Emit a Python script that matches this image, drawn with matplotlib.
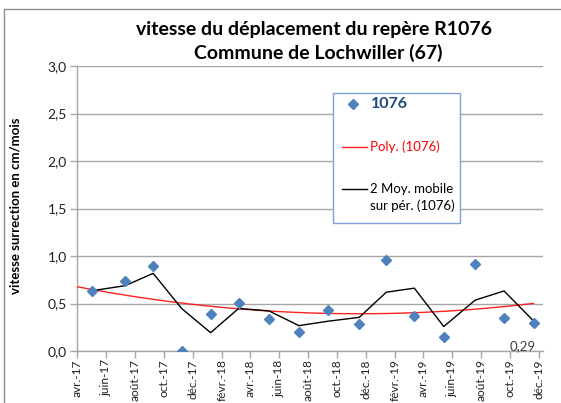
import matplotlib
matplotlib.use("Agg")
import matplotlib.pyplot as plt
import matplotlib.dates as mdates
import numpy as np
import pandas as pd
from matplotlib.lines import Line2D
from matplotlib.patches import Rectangle

# ---- data ----
dates = ["2017-05-04", "2017-07-12", "2017-09-09", "2017-11-08", "2018-01-08",
         "2018-03-08", "2018-05-11", "2018-07-13", "2018-09-13", "2018-11-17",
         "2019-01-13", "2019-03-13", "2019-05-14", "2019-07-19", "2019-09-18",
         "2019-11-19"]
values = [0.635, 0.74, 0.895, 0.0, 0.386, 0.51, 0.334, 0.20, 0.428, 0.28,
          0.958, 0.365, 0.15, 0.92, 0.344, 0.29]
tick_dates = pd.date_range("2017-04-01", "2019-12-01", freq="2MS")
month_fr = {1: "janv.", 2: "févr.", 3: "mars", 4: "avr.", 5: "mai", 6: "juin",
            7: "juil.", 8: "août", 9: "sept.", 10: "oct.", 11: "nov.", 12: "déc."}
tick_labels = [f"{month_fr[d.month]}-{d.year % 100:02d}" for d in tick_dates]
yticks = [0.0, 0.5, 1.0, 1.5, 2.0, 2.5, 3.0]
ytick_labels = [f"{v:.1f}".replace(".", ",") for v in yticks]
last_label = "0,29"

plt.rcParams['font.family'] = ['Lato', 'DejaVu Sans']

W, H = 561, 403
fig = plt.figure(figsize=(W / 100, H / 100), dpi=100)
ax = fig.add_axes([76.7 / W, 1 - 351 / H, (543 - 76.7) / W, (351 - 66) / H])

x = pd.to_datetime(dates)
xn = mdates.date2num(x)
y = np.array(values)

xmin = mdates.date2num(pd.Timestamp("2017-04-01"))
xmax = mdates.date2num(pd.Timestamp("2019-12-09"))

# polynomial trendline (order 2)
coef = np.polyfit(xn - xn[0], y, 2)
xp = np.linspace(xmin, xn[-1], 200)
yp = np.polyval(coef, xp - xn[0])
ax.plot(xp, yp, color="#FF2020", lw=1.0, zorder=3)

# moving average (period 2)
ma = pd.Series(y).rolling(2, min_periods=1).mean().values
ax.plot(xn, ma, color="black", lw=1.0, zorder=4)

# points
ax.plot(xn, y, linestyle="none", marker="D", markersize=5.5, color="#4F81BD",
        zorder=5)

ax.annotate(last_label, (xn[-1], y[-1]), xytext=(-8, -12), textcoords="offset points",
            ha="center", va="top", fontsize=9.5, color="#404040")

ax.set_xlim(xmin, xmax)
ax.set_ylim(0, 3.0)
ax.set_xticks(mdates.date2num(tick_dates))
ax.set_xticklabels(tick_labels, rotation=90, fontsize=8.6, color="#202020")
ax.set_yticks(yticks)
ax.set_yticklabels(ytick_labels, fontsize=10, color="#202020")
ax.grid(axis="y", color="#A6A6A6", lw=1.0)
ax.set_axisbelow(True)
for s in ["top", "right"]:
    ax.spines[s].set_visible(False)
for s in ["left", "bottom"]:
    ax.spines[s].set_color("#A6A6A6")
    ax.spines[s].set_linewidth(1.0)
ax.tick_params(axis="both", color="#A6A6A6", length=5, width=1.0, direction="out", pad=2)
ax.tick_params(axis="x", pad=1)

ax.set_ylabel("vitesse surrection en cm/mois", fontsize=9.5, fontweight="bold",
              labelpad=8)
ax.yaxis.set_label_coords((22 - 76.7) / (543 - 76.7), (351 - 206) / (351 - 66))

fig.text(314 / W, 1 - 30 / H, "vitesse du déplacement du repère R1076",
         ha="center", va="center", fontsize=14, fontweight="bold")
fig.text(318 / W, 1 - 53 / H, "Commune de Lochwiller (67)",
         ha="center", va="center", fontsize=14, fontweight="bold")

# outer chart border
fig.patches.append(Rectangle((4 / W, -0.05), 1.1, 1 - 9 / H + 0.05,
                             transform=fig.transFigure, fill=False,
                             edgecolor="#8C8C8C", lw=1.0))

# legend box
def fx(px):
    return px / W

def fy(py):
    return 1 - py / H

fig.patches.append(Rectangle((fx(333.3), fy(223)), fx(460) - fx(333.3), fy(92.7) - fy(223),
                             transform=fig.transFigure, facecolor="white",
                             edgecolor="#7FA1D3", lw=1.0, zorder=10))
fig.add_artist(Line2D([fx(353)], [fy(104)], marker="D", markersize=5.5,
                      color="#4F81BD", linestyle="none", zorder=11))
fig.text(fx(371), fy(104), "1076", ha="left", va="center", fontsize=11.5,
         fontweight="bold", color="#1F497D", zorder=11)
fig.add_artist(Line2D([fx(341.5), fx(367)], [fy(146.7), fy(146.7)], color="#FF2020",
                      lw=1.0, zorder=11))
fig.text(fx(370), fy(146.7), "Poly. (1076)", ha="left", va="center", fontsize=9.5,
         color="#FF0000", zorder=11)
fig.add_artist(Line2D([fx(341.5), fx(367)], [fy(189.3), fy(189.3)], color="black",
                      lw=1.0, zorder=11))
fig.text(fx(370), fy(189.3), "2 Moy. mobile", ha="left", va="center", fontsize=9.5,
         color="black", zorder=11)
fig.text(fx(370), fy(205.5), "sur pér. (1076)", ha="left", va="center", fontsize=9.5,
         color="black", zorder=11)

fig.savefig("out.png", dpi=100)
